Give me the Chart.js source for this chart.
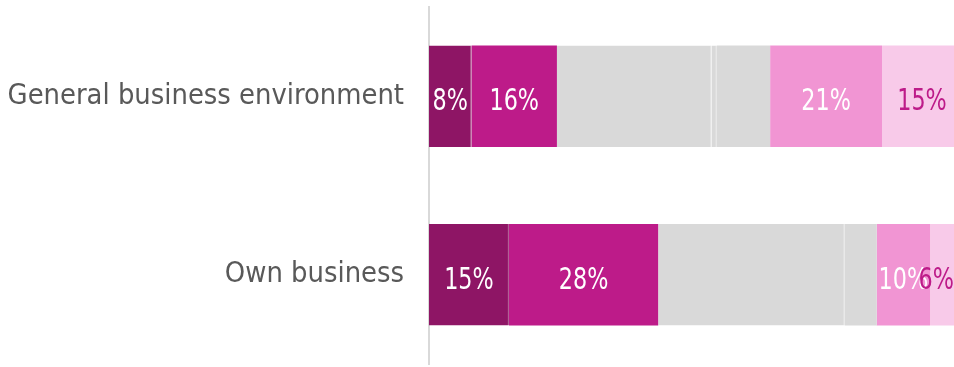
<!DOCTYPE html>
<html>
<head>
<meta charset="utf-8">
<script src="https://cdn.jsdelivr.net/npm/chart.js@4"></script>
<style>
  html, body { margin: 0; padding: 0; background: #fff; }
  body { width: 954px; height: 367px; overflow: hidden; }
  #wrap { position: relative; width: 962px; height: 367px; }
</style>
</head>
<body>
<div id="wrap"><canvas id="chart"></canvas></div>
<script>
const FONT = '"DejaVu Sans Condensed", "DejaVu Sans", sans-serif'

const categories = ['General business environment', 'Own business']

// share of answers, in %
const muchBetter = [8, 15]
const better = [16, 28]
const neutral = [29, 35]
const unsure = [1, 0]
const noAnswer = [10, 6]
const worse = [21, 10]
const muchWorse = [15, 6]

function series(label, data, color, seam, labelColor) {
  return {
    label: label,
    data: data,
    backgroundColor: color,
    borderColor: seam || color,
    borderWidth: seam ? { top: 0, bottom: 0, left: 0, right: 1 } : 0,
    borderSkipped: false,
    labelColor: labelColor
  }
}

// writes "n%" in the middle of each coloured segment
const segmentLabels = {
  id: 'segmentLabels',
  afterDatasetsDraw(chart) {
    const ctx = chart.ctx
    const right = chart.chartArea.right - 8
    const squeeze = 0.8
    ctx.save()
    ctx.font = '31px ' + FONT
    ctx.textBaseline = 'alphabetic'
    ctx.textAlign = 'center'
    chart.data.datasets.forEach((ds, i) => {
      if (!ds.labelColor) return
      chart.getDatasetMeta(i).data.forEach((bar, j) => {
        const v = ds.data[j]
        if (!v) return
        const txt = v + '%'
        const w = ctx.measureText(txt).width * squeeze
        const x = Math.min((bar.x + bar.base) / 2, right - w / 2)
        ctx.save()
        ctx.translate(x, bar.y + 14)
        ctx.scale(squeeze, 1)
        ctx.fillStyle = ds.labelColor
        ctx.fillText(txt, 0, 0)
        ctx.restore()
      })
    })
    ctx.restore()
  }
}

const chart = new Chart(document.getElementById('chart'), {
  type: 'bar',
  data: {
    labels: categories,
    datasets: [
      series('Much better', muchBetter, '#8e1565', '#a9508b', '#ffffff'),
      series('Better', better, '#bd1b89', null, '#ffffff'),
      series('Same', neutral, '#d9d9d9', '#dfdfdf', null),
      series('Unsure', unsure, '#d9d9d9', '#dfdfdf', null),
      series('No answer', noAnswer, '#d9d9d9', null, null),
      series('Worse', worse, '#f195d3', null, '#ffffff'),
      series('Much worse', muchWorse, '#f8cae9', null, '#bd1b89')
    ]
  },
  options: {
    indexAxis: 'y',
    responsive: true,
    maintainAspectRatio: false,
    animation: false,
    devicePixelRatio: 1,
    layout: { padding: { top: 7, bottom: 3, left: 0, right: 0 } },
    datasets: { bar: { barPercentage: 0.57, categoryPercentage: 1 } },
    plugins: { legend: { display: false }, tooltip: { enabled: false } },
    scales: {
      x: { stacked: true, display: false, min: 0, max: 100 },
      y: {
        stacked: true,
        grid: { display: false, drawTicks: false },
        border: { display: true, color: '#d9d9d9', width: 2 },
        ticks: { color: '#595959', padding: 25, font: { family: FONT, size: 28.8 } },
        afterFit(scale) {
          scale.width = 429
          scale.paddingTop = 0
          scale.paddingBottom = 0
        }
      }
    }
  },
  plugins: [segmentLabels]
})
</script>
</body>
</html>
